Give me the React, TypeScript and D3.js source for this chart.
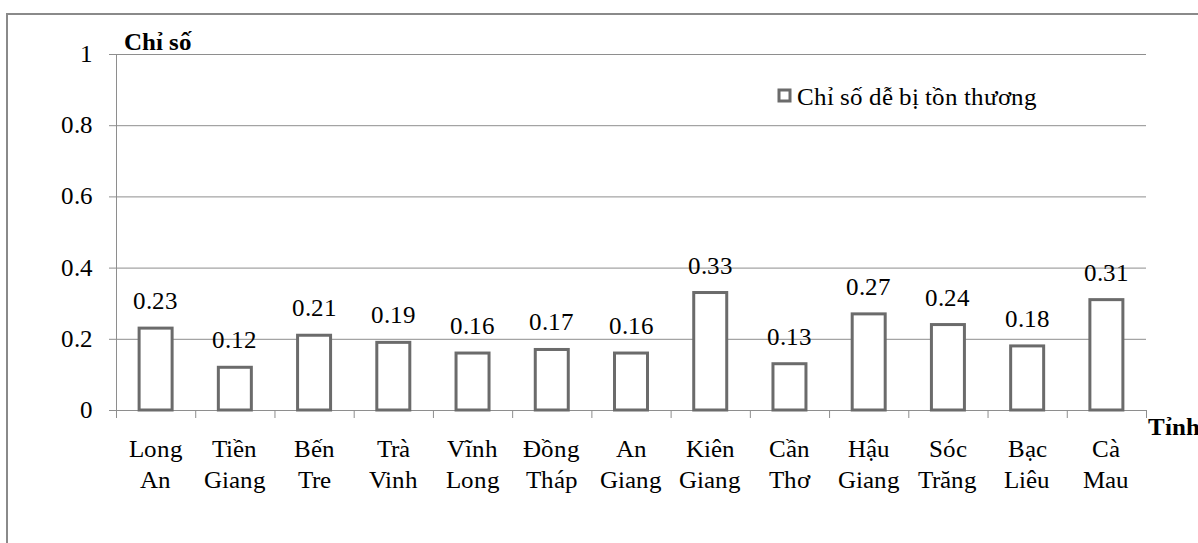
import React from "react";
import * as d3 from "d3";

const categories: string[][] = [
  ["Long", "An"], ["Tiền", "Giang"], ["Bến", "Tre"], ["Trà", "Vinh"], ["Vĩnh", "Long"],
  ["Đồng", "Tháp"], ["An", "Giang"], ["Kiên", "Giang"], ["Cần", "Thơ"], ["Hậu", "Giang"],
  ["Sóc", "Trăng"], ["Bạc", "Liêu"], ["Cà", "Mau"],
];
const values: number[] = [0.23, 0.12, 0.21, 0.19, 0.16, 0.17, 0.16, 0.33, 0.13, 0.27, 0.24, 0.18, 0.31];
const yTicks: number[] = [0, 0.2, 0.4, 0.6, 0.8, 1];
const legendLabel = "Chỉ số dễ bị tồn thương";
const yTitle = "Chỉ số";
const xTitle = "Tỉnh";

const FONT = '"XSerif", "Liberation Serif", "Times New Roman", serif';
const CSS = `
@font-face { font-family: "XSerif"; font-weight: 400; font-style: normal;
  src: local("Liberation Serif"), local("LiberationSerif"), local("Liberation Serif Regular"), local("Times New Roman"), local("Tinos"); }
@font-face { font-family: "XSerif"; font-weight: 700; font-style: normal;
  src: local("Liberation Serif Bold"), local("LiberationSerif-Bold"), local("Times New Roman Bold"), local("Tinos Bold"); }
`;

export default function App() {
  const W = 1198, H = 543;
  const left = 116, right = 1146, top = 54, bottom = 410;
  const x = d3.scaleBand<number>().domain(d3.range(values.length)).range([left, right]).paddingInner(0).paddingOuter(0);
  const y = d3.scaleLinear().domain([0, 1]).range([bottom, top]);
  const bw = 33;
  const grid = "#8e8e8e";
  const fs = 25;
  const ts = { fontFamily: FONT } as React.CSSProperties;
  return (
    <svg width={W} height={H} lang="vi" style={{ position: "absolute", left: 0, top: 0, background: "#fff" }}>
      <style>{CSS}</style>
      <rect x={7} y={14} width={1400} height={700} fill="none" stroke="#8a8a8a" strokeWidth={2} />
      {yTicks.map((t) => (
        <line key={t} x1={109} x2={right} y1={y(t) + 0.5} y2={y(t) + 0.5} stroke={grid} strokeWidth={1} />
      ))}
      <line x1={left + 0.5} x2={left + 0.5} y1={top} y2={bottom + 8} stroke={grid} strokeWidth={1} />
      {d3.range(values.length + 1).map((i) => {
        const xx = i < values.length ? x(i)! : right;
        return <line key={i} x1={xx + 0.5} x2={xx + 0.5} y1={bottom} y2={bottom + 8} stroke={grid} strokeWidth={1} />;
      })}
      {values.map((v, i) => {
        const cx = x(i)! + x.bandwidth() / 2;
        return (
          <rect key={i} x={cx - bw / 2} y={y(v)} width={bw} height={bottom - y(v)} fill="#fff" stroke="#6b6b6b" strokeWidth={3} />
        );
      })}
      <rect x={779} y={90} width={11} height={11} fill="#fff" stroke="#6b6b6b" strokeWidth={3} />
      <g fill="#000" style={ts}>
        {yTicks.map((t) => (
          <text key={t} x={93} y={y(t) + 8} textAnchor="end" fontSize={fs} style={ts}>{String(t)}</text>
        ))}
        {values.map((v, i) => {
          const cx = x(i)! + x.bandwidth() / 2;
          return (
            <g key={i}>
              <text x={cx} y={y(v) - 19} textAnchor="middle" fontSize={fs} style={ts}>{v.toFixed(2)}</text>
              <text x={cx} y={457} textAnchor="middle" fontSize={fs} style={ts}>{categories[i][0]}</text>
              <text x={cx} y={488} textAnchor="middle" fontSize={fs} style={ts}>{categories[i][1]}</text>
            </g>
          );
        })}
        <text x={124} y={50} fontSize={fs} fontWeight="bold" style={ts}>{yTitle}</text>
        <text x={1148} y={435} fontSize={fs} fontWeight="bold" style={ts}>{xTitle}</text>
        <text x={797} y={105} fontSize={fs} style={ts}>{legendLabel}</text>
      </g>
    </svg>
  );
}
